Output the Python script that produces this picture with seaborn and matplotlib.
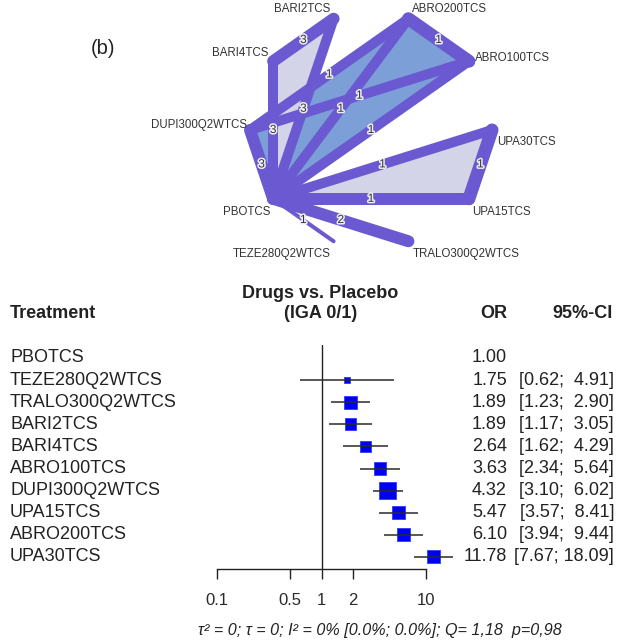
import numpy as np
import matplotlib
matplotlib.use("Agg")
import matplotlib.pyplot as plt
import matplotlib.patheffects as pe
from matplotlib.transforms import blended_transform_factory
import pandas as pd
import seaborn as sns

# ---------------------------------------------------------------- data
treatments = ["PBOTCS", "TEZE280Q2WTCS", "TRALO300Q2WTCS", "BARI2TCS", "BARI4TCS",
              "ABRO100TCS", "DUPI300Q2WTCS", "UPA15TCS", "ABRO200TCS", "UPA30TCS"]
odds_ratio = [1.00, 1.75, 1.89, 1.89, 2.64, 3.63, 4.32, 5.47, 6.10, 11.78]
ci_lower = [np.nan, 0.62, 1.23, 1.17, 1.62, 2.34, 3.10, 3.57, 3.94, 7.67]
ci_upper = [np.nan, 4.91, 2.90, 3.05, 4.29, 5.64, 6.02, 8.41, 9.44, 18.09]
axis_ticks = [0.1, 0.5, 1, 2, 10]
axis_tick_labels = ["0.1", "0.5", "1", "2", "10"]
heterogeneity = "τ² = 0; τ = 0; I² = 0% [0.0%; 0.0%]; Q= 1,18  p=0,98"

# network nodes in circular order (counter-clockwise from the right)
network_nodes = ["UPA30TCS", "ABRO100TCS", "ABRO200TCS", "BARI2TCS", "BARI4TCS",
                 "DUPI300Q2WTCS", "PBOTCS", "TEZE280Q2WTCS", "TRALO300Q2WTCS", "UPA15TCS"]
edge_from = ["BARI4TCS", "BARI2TCS", "BARI4TCS", "DUPI300Q2WTCS", "DUPI300Q2WTCS",
             "DUPI300Q2WTCS", "ABRO200TCS", "ABRO200TCS", "ABRO100TCS", "UPA30TCS",
             "UPA30TCS", "UPA15TCS", "TEZE280Q2WTCS", "TRALO300Q2WTCS"]
edge_to = ["BARI2TCS", "PBOTCS", "PBOTCS", "PBOTCS", "ABRO200TCS",
           "ABRO100TCS", "ABRO100TCS", "PBOTCS", "PBOTCS", "UPA15TCS",
           "PBOTCS", "PBOTCS", "PBOTCS", "PBOTCS"]
edge_studies = [3, 3, 3, 3, 1, 1, 1, 1, 1, 1, 1, 1, 1, 2]
multiarm_studies = [["DUPI300Q2WTCS", "ABRO200TCS", "ABRO100TCS", "PBOTCS"],
                    ["BARI4TCS", "BARI2TCS", "PBOTCS"],
                    ["UPA30TCS", "UPA15TCS", "PBOTCS"]]

# ---------------------------------------------------------------- style
edge_width_px = [12, 10, 10, 12, 10, 10, 13, 10, 10, 13, 10, 12, 4, 12]
multiarm_colors = ["#7d9fd8", "#d4d4e8", "#d4d4e8"]
edge_color = "#6a59d0"
text_color = "#222222"

sns.set_theme(style="white")
plt.rcParams["font.family"] = ["Liberation Sans", "DejaVu Sans"]

W, H = 622, 641
fig = plt.figure(figsize=(W / 100, H / 100), dpi=100)

# full-figure canvas in pixel units for the network graph and the text columns
bg = fig.add_axes([0, 0, 1, 1])
bg.set_xlim(0, W)
bg.set_ylim(H, 0)
bg.axis("off")

PX = 0.72  # points per pixel at 100 dpi

# ---------------------------------------------------------------- network graph
cx, cy, rx, ry = 371, 130, 121, 117
angles = np.deg2rad(36 * np.arange(len(network_nodes)))
pos = {n: (cx + rx * np.cos(a), cy - ry * np.sin(a)) for n, a in zip(network_nodes, angles)}

for study, col in zip(multiarm_studies, multiarm_colors):
    pts = np.array([pos[n] for n in study])
    bg.fill(pts[:, 0], pts[:, 1], color=col, lw=0, zorder=1)

for a, b, n, w in zip(edge_from, edge_to, edge_studies, edge_width_px):
    (x1, y1), (x2, y2) = pos[a], pos[b]
    bg.plot([x1, x2], [y1, y2], color=edge_color, lw=w * PX,
            solid_capstyle="round", zorder=2)
    bg.text((x1 + x2) / 2, (y1 + y2) / 2, str(n), fontsize=8.5, color="#333333",
            ha="center", va="center", zorder=4,
            path_effects=[pe.withStroke(linewidth=2.2, foreground="#eeeef6")])

label_place = {
    "BARI2TCS": (-3, -4, "right", "bottom"),
    "ABRO200TCS": (4, -4, "left", "bottom"),
    "ABRO100TCS": (6, -3, "left", "center"),
    "UPA30TCS": (5, 6, "left", "top"),
    "UPA15TCS": (3, 7, "left", "top"),
    "TRALO300Q2WTCS": (4, 7, "left", "top"),
    "TEZE280Q2WTCS": (-3, 7, "right", "top"),
    "PBOTCS": (-3, 7, "right", "top"),
    "DUPI300Q2WTCS": (-3, -5, "right", "center"),
    "BARI4TCS": (-5, -8, "right", "center"),
}
for n in network_nodes:
    dx, dy, ha, va = label_place[n]
    x, y = pos[n]
    bg.text(x + dx, y + dy, n, fontsize=8.3, color="#333333", ha=ha, va=va, zorder=5)

bg.text(103, 48, "(b)", fontsize=14.5, color=text_color, ha="center", va="center")

# ---------------------------------------------------------------- forest plot
x0, x1 = 217, 426          # pixel span of 0.1 .. 10
ytop, ybot = 345, 569       # pixel span of the plotting region
ax = fig.add_axes([x0 / W, (H - ybot) / H, (x1 - x0) / W, (ybot - ytop) / H])
ax.set_xscale("log")
ax.set_xlim(0.1, 10)
row_step = 22.1
first_row = 358
ax.set_ylim((ybot - first_row) / row_step, (ytop - first_row) / row_step)
ax.set_facecolor("none")

df = pd.DataFrame({"treatment": treatments, "OR": odds_ratio,
                   "lo": ci_lower, "hi": ci_upper})
df["row"] = np.arange(len(df))
se = (np.log(df["hi"]) - np.log(df["lo"])) / (2 * 1.96)
side_px = (2.85 / se).fillna(0)
est = df.dropna(subset=["lo"]).copy()
est_sizes = (side_px[est.index] * PX) ** 2

ax.axvline(1, color=text_color, lw=1.0, zorder=1)
sns.scatterplot(data=est, x="OR", y="row", marker="s", s=est_sizes.values,
                color="#0000f0", edgecolor="#2d3cff", linewidth=0.6,
                legend=False, ax=ax, zorder=3, clip_on=False)
ax.hlines(est["row"], est["lo"], est["hi"], color="#2a2a2a", lw=1.1,
          zorder=4, clip_on=False)

for s in ["top", "right", "left"]:
    ax.spines[s].set_visible(False)
ax.spines["bottom"].set_color(text_color)
ax.spines["bottom"].set_linewidth(1.0)
ax.set_xticks(axis_ticks)
ax.set_xticklabels(axis_tick_labels)
ax.minorticks_off()
ax.tick_params(axis="x", bottom=True, direction="out", length=10 * PX, width=1.0,
               color=text_color, labelsize=12, labelcolor="#2a2a2a", pad=10)
ax.set_yticks([])
ax.set_xlabel("")
ax.set_ylabel("")
ax.grid(False)

# text columns: x in figure pixels, y in forest rows
tr = blended_transform_factory(bg.transData, ax.transData)
for _, r in df.iterrows():
    ax.text(10, r["row"], r["treatment"], transform=tr, fontsize=13,
            color=text_color, ha="left", va="center")
    ax.text(507, r["row"], f"{r['OR']:.2f}", transform=tr, fontsize=13,
            color=text_color, ha="right", va="center")
    if not np.isnan(r["lo"]):
        ax.text(614, r["row"], f"[{r['lo']:.2f}; {r['hi']:5.2f}]", transform=tr,
                fontsize=13, color=text_color, ha="right", va="center")

hdr = dict(fontsize=13, fontweight="bold", color=text_color, va="center")
bg.text(10, 313, "Treatment", ha="left", **hdr)
bg.text(320, 293, "Drugs vs. Placebo", ha="center", **hdr)
bg.text(321, 314, "(IGA 0/1)", ha="center", **hdr)
bg.text(507, 313, "OR", ha="right", **hdr)
bg.text(613, 313, "95%-CI", ha="right", **hdr)

bg.text(198, 630, heterogeneity, fontsize=11.6, style="italic", color=text_color,
        ha="left", va="center")

fig.savefig("out.png", dpi=100)
